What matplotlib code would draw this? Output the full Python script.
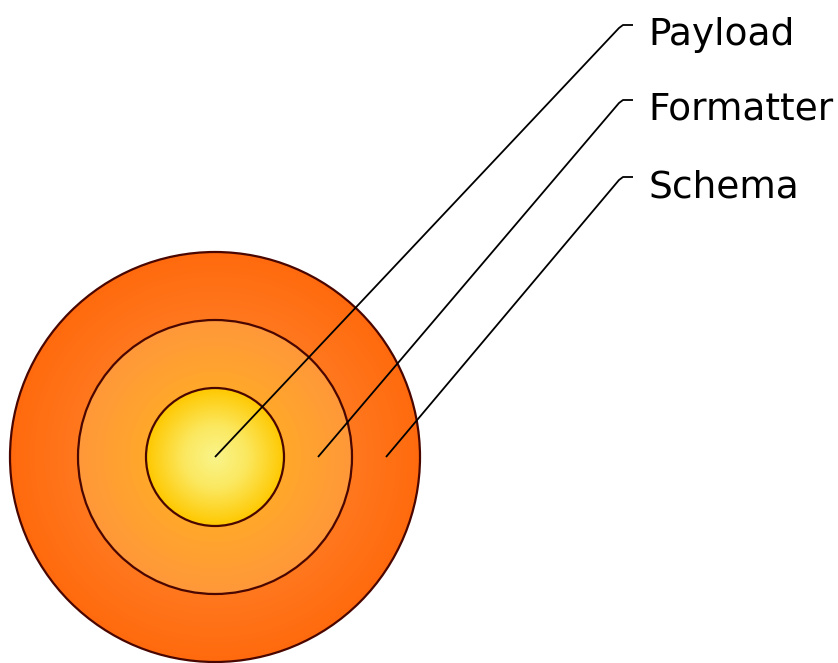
import numpy as np
import matplotlib
matplotlib.use("Agg")
import matplotlib.pyplot as plt
from matplotlib.patches import Circle
from matplotlib.colors import LinearSegmentedColormap

# ---- data ----
layer_names = ["Payload", "Formatter", "Schema"]   # inner -> outer
layer_radii = [69, 137, 205]
label_y = [25, 100, 177]

W, H = 838, 663
fig = plt.figure(figsize=(W / 100, H / 100), dpi=100)
ax = fig.add_axes([0, 0, 1, 1])
ax.set_xlim(0, W)
ax.set_ylim(H, 0)
ax.set_aspect("equal")
ax.axis("off")

cx, cy = 215, 457

# gradient stops per layer (position relative to own radius)
grads = [
    [(0.0, "#f9f48a"), (0.45, "#fbe860"), (1.0, "#ffc800")],
    [(0.0, "#ffb020"), (0.5, "#ffa82a"), (1.0, "#ff983a")],
    [(0.0, "#ff8428"), (0.67, "#ff781e"), (1.0, "#ff6a0e")],
]

for i in range(len(layer_radii) - 1, -1, -1):
    R = layer_radii[i]
    cmap = LinearSegmentedColormap.from_list("g%d" % i, grads[i])
    n = 400
    xs = np.linspace(-R, R, n)
    X, Y = np.meshgrid(xs, xs)
    rr = np.clip(np.sqrt(X ** 2 + Y ** 2) / R, 0, 1)
    img = ax.imshow(rr, cmap=cmap, vmin=0, vmax=1,
                    extent=[cx - R, cx + R, cy + R, cy - R],
                    interpolation="bilinear", zorder=1 + (2 - i))
    clip = Circle((cx, cy), R, transform=ax.transData)
    img.set_clip_path(clip)
    ax.add_patch(Circle((cx, cy), R, fill=False, edgecolor="#4a0600",
                        linewidth=1.6, zorder=5))

# leader lines and labels
x_elbow, x_end, x_text = 622, 633, 648
for i, name in enumerate(layer_names):
    if i == 0:
        ax_x = cx
    else:
        ax_x = cx + (layer_radii[i - 1] + layer_radii[i]) / 2
    ax.plot([ax_x, x_elbow - 3, x_elbow + 1, x_end],
            [cy, label_y[i] + 3, label_y[i], label_y[i]],
            color="black", linewidth=1.3, zorder=6, solid_capstyle="butt")
    ax.text(x_text, label_y[i] + 20, name, fontsize=27,
            family="DejaVu Sans", va="baseline", ha="left", color="black",
            zorder=7)

fig.savefig("out.png", dpi=100)
